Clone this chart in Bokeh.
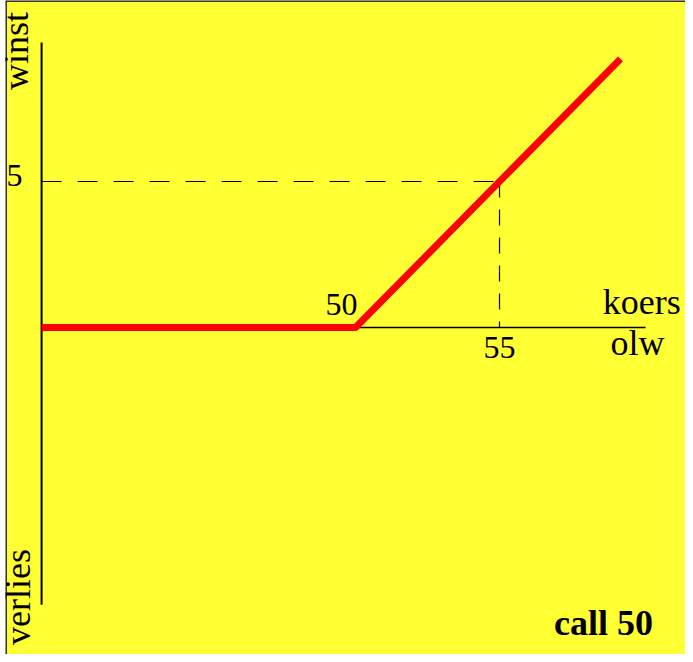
from bokeh.plotting import figure
from bokeh.models import Range1d, Span, Label
from bokeh.embed import file_html
from bokeh.resources import INLINE

# --- data -------------------------------------------------------------
strike = 50                      # uitoefenprijs van de call
koers = [39.1, 50, 59.2]         # koers van de onderliggende waarde (x)
winst = [0, 0, 9.2]              # winst / verlies van de call (y)
x_ticks = [50, 55]
x_tick_labels = ["50", "55"]
y_ticks = [5]
y_tick_labels = ["5"]

# --- figure -----------------------------------------------------------
x0, x1 = 37.847, 61.458
y0, y1 = -11.2, 11.2
p = figure(width=685, height=654, output_backend="svg", toolbar_location=None,
           x_range=Range1d(x0, x1), y_range=Range1d(y0, y1),
           x_axis_location=None, y_axis_location=None,
           min_border_left=5, min_border_right=0, min_border_top=0, min_border_bottom=0,
           background_fill_color="#FFFF33", border_fill_color="white",
           outline_line_color=None)
p.grid.visible = False

# frame border (left and top)
p.add_layout(Span(location=x0, dimension="height", line_color="#333333", line_width=3))
p.add_layout(Span(location=y1, dimension="width", line_color="#333333", line_width=3))

x_origin = koers[0]
x_axis_end = 60.07
y_axis_top, y_axis_bottom = 9.76, -9.5

# axes
p.line([x_origin, x_origin], [y_axis_bottom, y_axis_top], line_color="black", line_width=2)
p.line([x_origin, x_axis_end], [0, 0], line_color="black", line_width=1.5)

# dashed helper lines to (55, 5)
p.line([x_origin, x_ticks[1]], [y_ticks[0], y_ticks[0]], line_color="black",
       line_width=1.2, line_dash="20 16")
p.line([x_ticks[1], x_ticks[1]], [y_ticks[0], 0], line_color="black",
       line_width=1.2, line_dash="16 12")

# payoff line
p.line(koers, winst, line_color="#FF0000", line_width=7, line_join="round")

font = "Liberation Serif"

def lab(x, y, text, size, align="center", angle=0, bold=False):
    p.add_layout(Label(x=x, y=y, text=text, text_align=align, text_baseline="alphabetic",
                       angle=angle, text_font=font, text_font_size=size,
                       text_font_style="bold" if bold else "normal", text_color="black"))

lab(strike + 0.07, 0.80, x_tick_labels[0], "32px", align="right")
lab(x_ticks[1], -0.69, x_tick_labels[1], "32px")
lab(38.44, 5.20, y_tick_labels[0], "32px", align="right")
lab(61.29, 0.86, "koers", "36px", align="right")
lab(59.79, -0.53, "olw", "36px")
lab(58.61, -10.12, "call 50", "36px", bold=True)
lab(38.215, 9.47, "winst", "36px", angle=1.5708)
lab(38.285, -9.23, "verlies", "36px", angle=1.5708)

open("out.html", "w").write(file_html(p, INLINE))
